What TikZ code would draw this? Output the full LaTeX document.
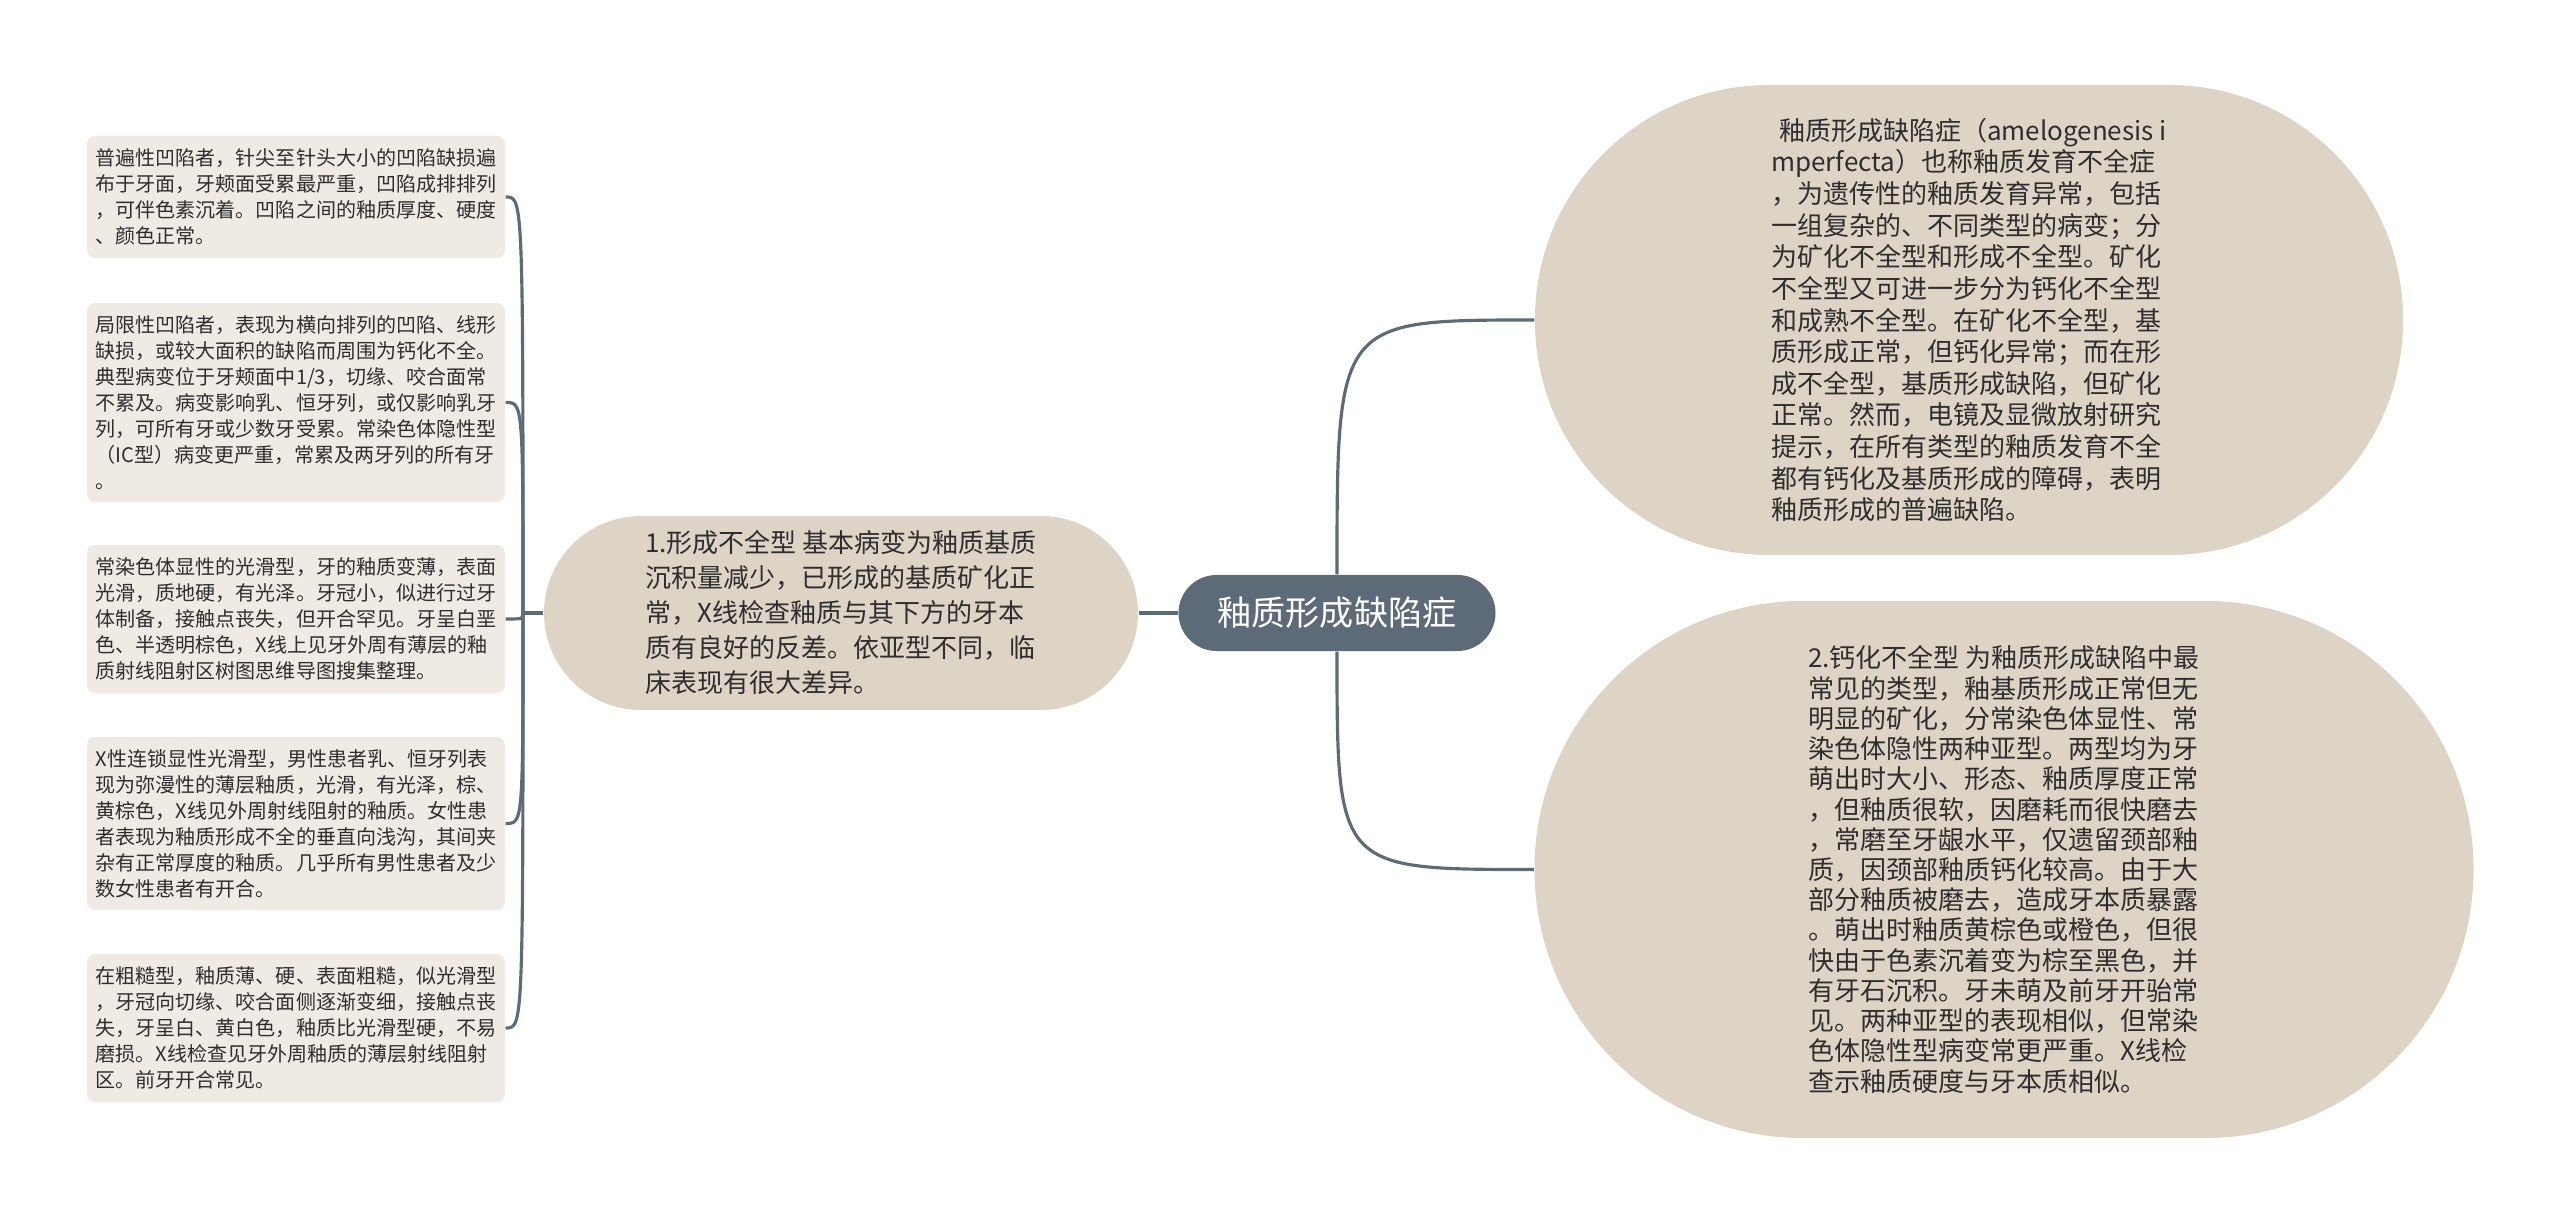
\documentclass[tikz,border=0pt]{standalone}
\usepackage{fontspec}
\setmainfont{Noto Sans CJK SC}
\definecolor{rootfill}{HTML}{5C6B77}
\definecolor{bubblefill}{HTML}{DED4C5}
\definecolor{leaffill}{HTML}{EFEBE4}
\definecolor{inktext}{HTML}{2E2E2E}

\begin{document}
\begin{tikzpicture}[
    rootnode/.style={rectangle, fill=rootfill, text=white, rounded corners=0.38cm, minimum width=3.17cm, minimum height=0.76cm, font=\fontsize{9.7pt}{11pt}\selectfont},
    bubble/.style={rectangle, fill=bubblefill, text=inktext, align=left, inner sep=0pt},
    leaf/.style={rectangle, fill=leaffill, text=inktext, align=left, rounded corners=0.08cm, minimum width=4.18cm, inner sep=0pt, font=\fontsize{5.7pt}{7.4pt}\selectfont},
    link/.style={draw=rootfill, line width=0.9pt}
]
\useasboundingbox (0, 0) rectangle (25.6, 12.26);

% === ROOT ===
\node[rootnode] (root) at (13.37, 6.13) {釉质形成缺陷症};

% === LEFT BRANCH ===
\node[bubble, minimum width=5.94cm, minimum height=1.94cm, rounded corners=0.97cm,
      font=\fontsize{7.4pt}{9.96pt}\selectfont] (mid) at (8.41, 6.13)
    {1.形成不全型 基本病变为釉质基质\\
     沉积量减少，已形成的基质矿化正\\
     常，X线检查釉质与其下方的牙本\\
     质有良好的反差。依亚型不同，临\\
     床表现有很大差异。};

% Subtypes (left column)
\node[leaf, minimum height=1.22cm] (b1) at (2.96, 10.29)
    {普遍性凹陷者，针尖至针头大小的凹陷缺损遍\\
     布于牙面，牙颊面受累最严重，凹陷成排排列\\
     ，可伴色素沉着。凹陷之间的釉质厚度、硬度\\
     、颜色正常。};
\node[leaf, minimum height=1.99cm] (b2) at (2.96, 8.235)
    {局限性凹陷者，表现为横向排列的凹陷、线形\\
     缺损，或较大面积的缺陷而周围为钙化不全。\\
     典型病变位于牙颊面中1/3，切缘、咬合面常\\
     不累及。病变影响乳、恒牙列，或仅影响乳牙\\
     列，可所有牙或少数牙受累。常染色体隐性型\\
     （IC型）病变更严重，常累及两牙列的所有牙\\
     。};
\node[leaf, minimum height=1.48cm] (b3) at (2.96, 6.07)
    {常染色体显性的光滑型，牙的釉质变薄，表面\\
     光滑，质地硬，有光泽。牙冠小，似进行过牙\\
     体制备，接触点丧失，但开合罕见。牙呈白垩\\
     色、半透明棕色，X线上见牙外周有薄层的釉\\
     质射线阻射区树图思维导图搜集整理。};
\node[leaf, minimum height=1.73cm] (b4) at (2.96, 4.025)
    {X性连锁显性光滑型，男性患者乳、恒牙列表\\
     现为弥漫性的薄层釉质，光滑，有光泽，棕、\\
     黄棕色，X线见外周射线阻射的釉质。女性患\\
     者表现为釉质形成不全的垂直向浅沟，其间夹\\
     杂有正常厚度的釉质。几乎所有男性患者及少\\
     数女性患者有开合。};
\node[leaf, minimum height=1.48cm] (b5) at (2.96, 1.98)
    {在粗糙型，釉质薄、硬、表面粗糙，似光滑型\\
     ，牙冠向切缘、咬合面侧逐渐变细，接触点丧\\
     失，牙呈白、黄白色，釉质比光滑型硬，不易\\
     磨损。X线检查见牙外周釉质的薄层射线阻射\\
     区。前牙开合常见。};

% === RIGHT BRANCH ===
\node[bubble, minimum width=8.68cm, minimum height=4.70cm, rounded corners=2.34cm,
      font=\fontsize{7.4pt}{9.0pt}\selectfont] (e1) at (19.69, 9.06)
    {\hspace{0.3em}釉质形成缺陷症（amelogenesis i\\
     mperfecta）也称釉质发育不全症\\
     ，为遗传性的釉质发育异常，包括\\
     一组复杂的、不同类型的病变；分\\
     为矿化不全型和形成不全型。矿化\\
     不全型又可进一步分为钙化不全型\\
     和成熟不全型。在矿化不全型，基\\
     质形成正常，但钙化异常；而在形\\
     成不全型，基质形成缺陷，但矿化\\
     正常。然而，电镜及显微放射研究\\
     提示，在所有类型的釉质发育不全\\
     都有钙化及基质形成的障碍，表明\\
     釉质形成的普遍缺陷。};
\node[bubble, minimum width=9.39cm, minimum height=5.37cm, rounded corners=2.68cm,
      font=\fontsize{7.4pt}{8.6pt}\selectfont] (e2) at (20.04, 3.565)
    {2.钙化不全型 为釉质形成缺陷中最\\
     常见的类型，釉基质形成正常但无\\
     明显的矿化，分常染色体显性、常\\
     染色体隐性两种亚型。两型均为牙\\
     萌出时大小、形态、釉质厚度正常\\
     ，但釉质很软，因磨耗而很快磨去\\
     ，常磨至牙龈水平，仅遗留颈部釉\\
     质，因颈部釉质钙化较高。由于大\\
     部分釉质被磨去，造成牙本质暴露\\
     。萌出时釉质黄棕色或橙色，但很\\
     快由于色素沉着变为棕至黑色，并\\
     有牙石沉积。牙未萌及前牙开骀常\\
     见。两种亚型的表现相似，但常染\\
     色体隐性型病变常更严重。X线检\\
     查示釉质硬度与牙本质相似。};

% === CONNECTORS ===
\coordinate (trunk) at (5.23, 6.13);
\draw[link] (root.west) -- (mid.east);
\draw[link] (mid.west) -- (trunk);
\foreach \b in {b1, b2, b3, b4, b5} {
    \draw[link] (trunk) .. controls (trunk |- \b.east) .. (\b.east);
}
\draw[link] (root.north) .. controls (root.north |- e1.west) .. (e1.west);
\draw[link] (root.south) .. controls (root.south |- e2.west) .. (e2.west);

\end{tikzpicture}
\end{document}
